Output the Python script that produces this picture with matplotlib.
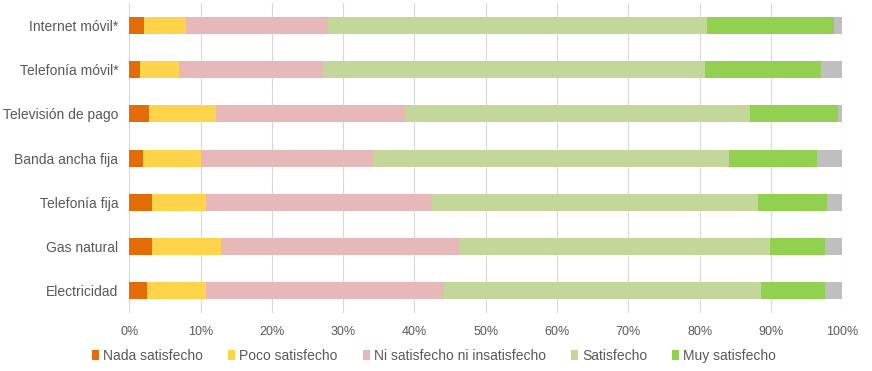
import matplotlib
matplotlib.use("Agg")
import matplotlib.pyplot as plt
import numpy as np

categories = ["Internet móvil*", "Telefonía móvil*", "Televisión de pago",
              "Banda ancha fija", "Telefonía fija", "Gas natural", "Electricidad"]
series_names = ["Nada satisfecho", "Poco satisfecho", "Ni satisfecho ni insatisfecho",
                "Satisfecho", "Muy satisfecho", "NS/NC"]
nada = [2.1, 1.5, 2.7, 1.9, 3.2, 3.2, 2.5]
poco = [5.8, 5.5, 9.4, 8.2, 7.6, 9.7, 8.3]
ni = [20.0, 20.2, 26.5, 24.1, 31.7, 33.4, 33.3]
satisfecho = [53.1, 53.5, 48.4, 49.9, 45.7, 43.6, 44.5]
muy = [17.8, 16.3, 12.4, 12.3, 9.7, 7.7, 9.0]
nsnc = [1.2, 3.0, 0.6, 3.6, 2.1, 2.4, 2.4]
xticks = [0, 10, 20, 30, 40, 50, 60, 70, 80, 90, 100]

colors = ["#E36C09", "#FFD34A", "#E6B9B8", "#C4D79B", "#92D050", "#BFBFBF"]
text_color = "#595959"

plt.rcParams['font.family'] = ['Liberation Sans', 'DejaVu Sans']

fig = plt.figure(figsize=(8.72, 3.71), dpi=100)
ax = fig.add_axes([0.1483, 0.156, 0.8176, 0.836])

y = np.arange(len(categories))
left = np.zeros(len(categories))
for name, vals, c in zip(series_names, [nada, poco, ni, satisfecho, muy, nsnc], colors):
    vals = np.array(vals)
    ax.barh(y, vals, left=left, height=0.385, color=c,
            label=name if name != "NS/NC" else "_nolegend_", zorder=3)
    left += vals

ax.set_xlim(0, 100)
ax.set_ylim(len(categories) - 0.5, -0.5)
ax.set_yticks(y)
ax.set_yticklabels(categories, fontsize=10, color=text_color)
ax.set_xticks(xticks)
ax.set_xticklabels([f"{t}%" for t in xticks], fontsize=9, color=text_color)
ax.tick_params(axis='both', length=0)
ax.tick_params(axis='y', pad=8)
ax.tick_params(axis='x', pad=9)
ax.grid(axis='x', color="#D9D9D9", linewidth=0.8, zorder=0)
for s in ax.spines.values():
    s.set_visible(False)

fig.legend(loc='center', bbox_to_anchor=(0.498, 0.04), ncol=5, frameon=False,
           fontsize=10, handlelength=0.5, handleheight=0.7, handletextpad=0.3,
           columnspacing=1.8, labelcolor=text_color)

fig.savefig("out.png", dpi=100)
